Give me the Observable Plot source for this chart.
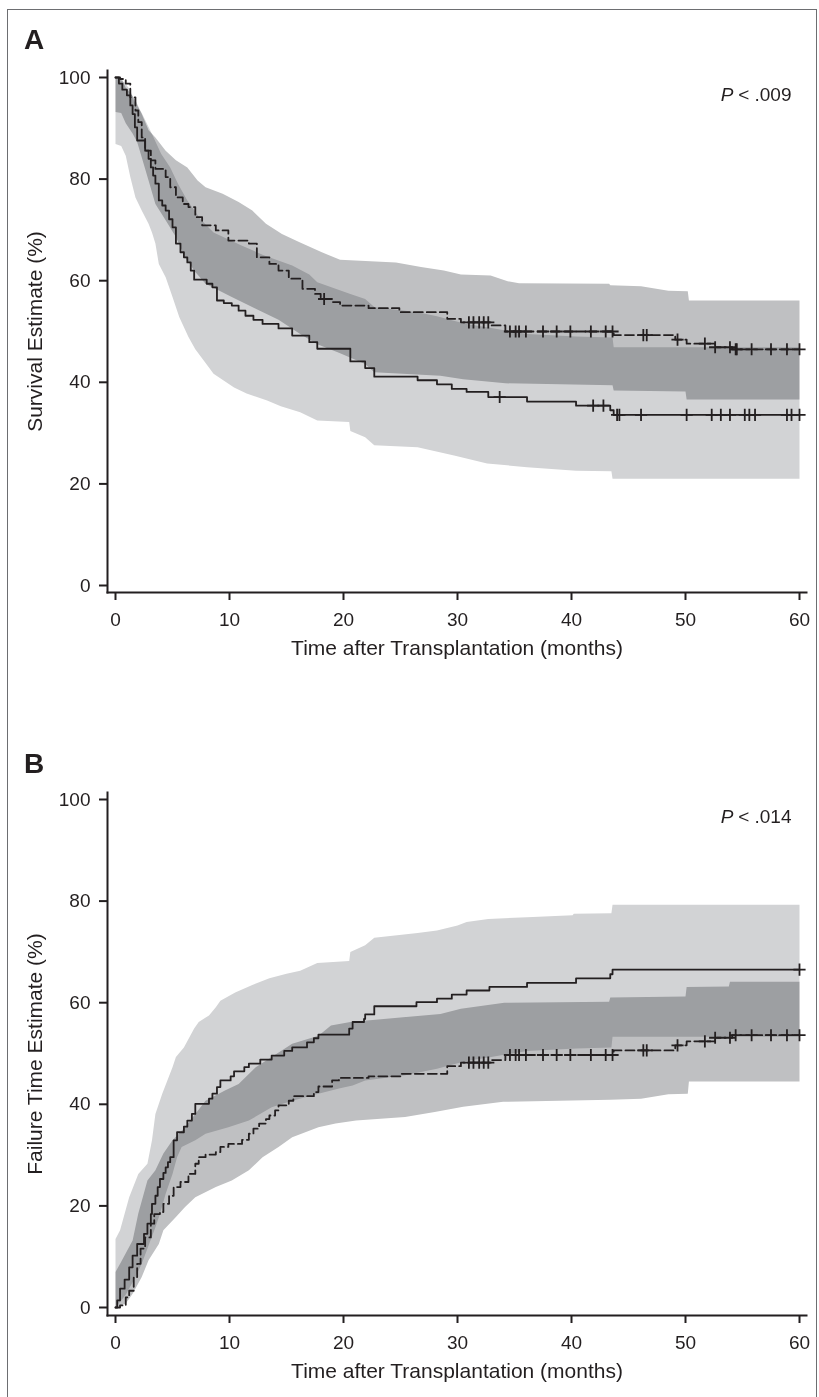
<!DOCTYPE html>
<html><head><meta charset="utf-8">
<script src="https://cdn.jsdelivr.net/npm/d3@7"></script>
<script src="https://cdn.jsdelivr.net/npm/@observablehq/plot@0.6"></script>
<style>
html,body{margin:0;padding:0;background:#fff;}
#page{position:relative;width:819px;height:1397px;overflow:hidden;font-family:"Liberation Sans",Arial,Helvetica,sans-serif;color:#231f20;}
.panel{position:absolute;left:0;}
.lab{position:absolute;left:24px;font-weight:bold;font-size:28px;line-height:28px;}
#border{position:absolute;left:7px;top:9px;width:810px;height:1420px;border:1px solid #6d6e71;box-sizing:border-box;}
</style></head><body>
<div id="page">
<div id="border"></div>
<div id="pA" class="panel" style="top:0px"></div>
<div id="pB" class="panel" style="top:720px"></div>
<div class="lab" style="top:26px">A</div>
<div class="lab" style="top:750px">B</div>
</div>
<script>
// ---------- tick labels / text ----------
const xTicks = [0, 10, 20, 30, 40, 50, 60];
const yTicks = [0, 20, 40, 60, 80, 100];
const xTitle = "Time after Transplantation (months)";
const yTitleA = "Survival Estimate (%)";
const yTitleB = "Failure Time Estimate (%)";
const pA = "< .009";
const pB = "< .014";

// ---------- Panel A: survival curves (step times / values) ----------
const A_solid_t = [0,0.3,0.6,1.0,1.3,1.5,1.7,1.9,2.6,2.9,3.1,3.3,3.5,3.8,4.1,4.4,4.7,5.0,5.3,5.7,6.0,6.3,6.6,6.9,8.0,8.5,8.9,9.5,10.2,10.8,11.4,12.1,12.9,14.3,15.5,17.0,17.7,20.6,21.9,22.7,26.5,28.2,29.5,30.8,32.7,36.1,40.4,43.4,43.7];
const A_solid_v = [100,98.8,97.6,96.5,94.5,92.8,90.2,87.6,85.6,84.0,82.3,80.7,79.1,75.8,74.8,73.8,72.1,70.5,67.3,65.6,64.6,63.6,62.0,60.2,59.4,58.7,56.1,55.6,55.1,54.1,53.1,52.3,51.5,50.6,49.2,47.9,46.6,44.1,42.8,41.1,40.4,39.6,38.7,38.1,37.1,36.2,35.4,34.5,33.6];
const A_solid_cens = [33.7,41.9,42.8,44.0,44.2,46.1,50.1,52.3,53.1,53.9,55.2,55.6,56.1,58.9,59.3,60];

const A_dash_t = [0,0.4,0.9,1.3,1.75,2.0,2.3,2.6,3.1,3.5,4.4,4.8,5.3,5.9,6.4,7.0,7.6,8.8,9.9,11.7,12.4,13.5,14.3,15.2,16.4,17.5,18.0,19.0,19.7,22.2,24.9,29.1,30.3,33.0,34.2,43.7,49.1,50.1,52.6,54.1];
const A_dash_v = [100,99.7,98.8,96.1,93.5,91.2,88.2,85.6,83.7,82.0,80.4,78.4,76.4,75.1,74.5,72.5,70.9,69.9,67.9,67.3,64.6,63.3,62.0,60.4,58.4,57.4,56.4,55.8,55.1,54.6,53.8,52.5,51.8,51.2,50.0,49.3,48.4,47.6,46.9,46.5];
const A_dash_cens = [18.3,31.0,31.4,31.9,32.3,32.7,34.6,35.1,35.4,36.0,37.5,38.7,39.9,41.7,43.0,43.6,46.3,46.6,49.3,51.7,52.6,53.9,54.4,54.5,55.8,57.5,58.9,60];

// Panel A confidence limits (boundary vertices)
const A_solidLo_t = [0,0.5,0.9,1.3,1.75,2.3,2.9,3.2,3.5,3.8,4.4,5.0,5.6,6.4,7.0,8.0,8.6,10.4,11.5,13.3,14.5,16.2,17.7,20.5,20.6,21.9,22.7,26.5,29.7,32.6,36.1,40.4,43.5,43.6,60];
const A_solidLo_v = [86.9,86.5,84.6,80.4,76.4,73.8,71.2,69.5,67.3,63.3,60.7,56.8,52.8,48.9,46.5,43.5,41.7,39.0,37.8,36.4,35.3,34.1,32.5,32.2,30.4,29.2,27.6,27.2,25.6,24.0,23.3,22.6,22.5,21.0,21.0];
const A_solidHi_t = [0,0.8,1.3,1.6,2.3,3.2,4.0,4.8,5.5,6.3,7.5,8.6,11,13,15.5,17.0,17.7,20.6,21.9,22.7,26.5,28.2,29.5,30.8,32.7,36.1,40.4,43.6,43.7,60];
const A_solidHi_v = [100,99,97.5,95.5,93,88.9,85,82.3,79,75.8,72,69.5,67,65,63,61.2,59.7,57.4,56.4,54.8,53.8,53,52.2,51.5,50.8,49.5,49,48.8,46.9,46.9];
const A_dashLo_t = [0,0.5,0.9,1.5,1.9,2.3,2.9,3.5,4.4,5.3,6.1,7.0,7.9,10.2,12.3,14.3,16.2,17.7,19.6,21.9,22.7,28.5,30.5,34.2,43.6,43.7,50.0,50.1,60];
const A_dashLo_v = [93.2,93,91,89,87.3,84.3,79.7,75.1,71.9,68.6,64.6,61.7,59.4,56.8,54.5,52.3,49.5,47.5,45.8,43.6,42.0,41.3,40.6,39.8,39.4,38.4,38.2,36.6,36.6];
const A_dashHi_t = [0,0.5,0.9,1.3,1.75,2.3,2.9,3.5,4.4,5.3,6.3,7.2,7.9,9.4,10.8,12.0,13.2,14.6,16.1,18.1,19.7,24.6,26.8,28.8,30.3,32.9,34.4,35.4,43.3,43.4,46.1,48.5,50.2,50.3,60];
const A_dashHi_v = [100,100,98,97,95.5,92.8,89.6,88.2,85.6,83.7,82.3,79.7,78.4,77.1,75.5,73.8,71.2,69.2,67.6,65.6,64.1,63.6,62.7,62.0,61.2,61.0,59.9,59.5,59.4,59.1,58.9,58.0,57.9,56.1,56.1];

// ---------- Panel B: failure curves ----------
const B_solid_t = [0,0.15,0.4,0.8,1.2,1.5,1.9,2.5,2.8,3.1,3.2,3.5,3.7,3.9,4.2,4.4,4.6,4.8,5.1,5.4,6.0,6.3,6.7,7.0,8.2,8.5,8.9,9.2,10.1,10.4,11.3,11.7,12.7,13.7,14.8,15.5,16.8,17.4,17.8,20.5,20.8,21.8,21.9,22.7,26.4,28.2,29.5,30.8,32.8,36.1,40.4,43.4,43.6];
const B_solid_v = [0,1.4,3.7,5.5,7.9,10.2,12.5,14.5,16.5,18.4,20.4,22.0,23.7,25.3,26.5,27.6,28.6,29.6,32.9,34.5,35.6,36.8,38.1,40.1,41.1,42.1,43.4,44.7,45.5,46.5,47.3,48.0,48.8,49.6,50.5,51.2,52.2,53.0,53.7,54.9,56.2,56.8,57.7,59.3,60.1,60.8,61.6,62.4,63.1,63.9,64.8,65.6,66.5];
const B_solid_cens = [60];

const B_dash_t = [0,0.4,0.9,1.2,1.6,1.9,2.2,2.6,3.1,3.4,3.9,4.2,4.7,5.1,5.7,6.4,7.0,7.3,7.9,8.8,9.2,9.9,11.1,11.7,12.1,12.6,13.2,13.5,14.0,14.3,15.2,15.6,17.4,17.8,19.0,19.6,22.2,25.0,29.1,30.3,33.0,34.2,43.7,49.1,50.1,52.6,54.1];
const B_dash_v = [0,0.4,2.0,3.3,6.0,8.6,11.6,13.8,16.5,18.4,18.8,20.4,22.0,23.7,24.7,26.3,28.3,29.6,30.1,30.6,31.6,32.2,33.0,34.2,35.2,36.2,37.1,37.8,38.8,39.8,40.7,41.6,42.4,43.5,44.7,45.2,45.5,46.0,47.5,48.2,48.7,49.7,50.6,51.6,52.4,53.1,53.6];
const B_dash_cens = [31.0,31.4,31.9,32.3,32.7,34.6,35.1,35.4,36.0,37.5,38.7,39.9,41.7,43.0,43.6,46.3,46.6,49.3,51.7,52.6,53.9,54.4,55.8,57.5,58.9,60];

// Panel B confidence limits
const B_solidLo_t = [0,0.9,1.75,2.3,2.9,3.5,3.9,4.4,5.0,5.4,5.8,7.0,7.9,9.9,11.7,13.7,15.5,17.8,19.6,20.8,21.9,25.4,28.2,29.5,30.8,32.7,36.1,40.4,43.5,43.6,60];
const B_solidLo_v = [0,2.5,6.0,8.6,12.2,15.8,18.4,22.4,26.3,29.6,31.6,32.9,34.2,35.5,36.8,39.4,40.7,42.1,43.1,43.7,44.7,45.7,47,47.8,48.5,49.2,50.5,51,51.2,53.3,53.3];
const B_solidHi_t = [0,0.4,1.2,2.0,2.8,3.2,3.5,4.1,5.0,5.3,6.0,6.9,7.3,8.2,8.8,9.2,10.5,12,13.5,15,16.2,17.7,20.5,20.6,21.9,22.7,26.5,28.2,30.0,30.8,32.7,36.1,40.1,40.2,43.5,43.6,60];
const B_solidHi_v = [13.5,15.2,21.7,26.3,28.3,32.9,38.1,42.1,47.3,49.3,51.2,54.9,56.2,57.5,59.1,60.4,62,63.5,64.8,65.7,66.3,67.8,68.2,70.0,71.3,72.8,73.7,74.2,75.2,75.9,76.5,76.8,77.2,77.5,77.6,79.3,79.3];
const B_dashLo_t = [0,0.9,1.5,2.3,2.9,3.8,4.2,5.3,6.1,7.0,8.8,10.2,11.7,12.9,14.3,15.5,17.8,19.3,21.1,25.4,28,30.5,34,43.4,46.1,48.5,50.2,50.3,60];
const B_dashLo_v = [0,0.8,2.7,6.0,9.3,12.5,15.2,17.8,19.8,21.7,23.7,25.0,27.0,29.6,31.6,33.5,35.5,36.2,36.8,37.5,38.5,39.5,40.5,40.9,41.1,42,42.1,44.5,44.5];
const B_dashHi_t = [0,0.5,1.5,2.0,2.8,3.5,4.2,5.0,6.1,7.0,7.9,9.6,10.8,12.3,13.7,15.5,17.8,18.9,20.6,25.0,28.5,30.3,34.1,43.3,43.4,50.0,50.1,53.8,53.9,60];
const B_dashHi_v = [7.0,9,13.2,18.5,25,27.0,30.3,32.9,35.5,38.1,40.7,42.7,44.0,47.3,49.3,51.9,53.5,55.5,56.2,57.1,57.8,58.8,60.0,60.2,61.0,61.2,63.1,63.2,64.1,64.1];

// ---------- helpers (table building only) ----------
const END = 60;
const INK = "#231f20";
const LIGHT = "#d2d3d5";
const MED = "#bfc0c2";
const FONT = '"Liberation Sans", Arial, Helvetica, sans-serif';

function stepAt(ts, vs, t) { let v = vs[0]; for (let i = 0; i < ts.length; i++) { if (ts[i] <= t) v = vs[i]; else break; } return v; }
function curveRows(ts, vs) { const r = ts.map((t, i) => ({t, v: vs[i]})); r.push({t: END, v: vs[vs.length - 1]}); return r; }
// closed outline of a band: upper limit left-to-right, then lower limit right-to-left
function bandPoly(lt, lv, ut, uv) {
  const up = ut.map((t, i) => ({t, v: uv[i]}));
  const lo = lt.map((t, i) => ({t, v: lv[i]})).reverse();
  return up.concat(lo);
}
function censRows(cs, ts, vs) { return cs.map(t => ({t, v: stepAt(ts, vs, t)})); }

function panel(cfg) {
  return Plot.plot({
    width: 819, height: cfg.H,
    marginTop: cfg.mt, insetTop: 7, marginBottom: cfg.mb, insetBottom: cfg.ib,
    marginLeft: 107, insetLeft: 8, marginRight: 13, insetRight: 7,
    style: {fontFamily: FONT, fontSize: "19px", color: INK, background: "transparent", overflow: "visible"},
    x: {domain: [0, 60]},
    y: {domain: [0, 100]},
    marks: [
      Plot.line(cfg.bandS, {x: "t", y: "v", curve: "linear", fill: LIGHT, stroke: "none", mixBlendMode: "multiply"}),
      Plot.line(cfg.bandD, {x: "t", y: "v", curve: "linear", fill: MED, stroke: "none", mixBlendMode: "multiply"}),
      Plot.line(cfg.solid, {x: "t", y: "v", curve: "step-after", stroke: INK, strokeWidth: 1.8}),
      Plot.line(cfg.dashed, {x: "t", y: "v", curve: "step-after", stroke: INK, strokeWidth: 1.8, strokeDasharray: "9,4"}),
      Plot.dot(cfg.solidC, {x: "t", y: "v", symbol: "plus", r: 4, stroke: INK, strokeWidth: 1.8}),
      Plot.dot(cfg.dashedC, {x: "t", y: "v", symbol: "plus", r: 4, stroke: INK, strokeWidth: 1.8}),
      Plot.frame({anchor: "left", stroke: INK, strokeWidth: 2}),
      Plot.frame({anchor: "bottom", stroke: INK, strokeWidth: 2}),
      Plot.axisX(xTicks, {tickSize: 8, tickPadding: 12, strokeWidth: 2, label: null, tickFormat: d => String(d)}),
      Plot.axisY(yTicks, {tickSize: 8, tickPadding: 9, strokeWidth: 2, label: null, tickFormat: d => String(d)}),
      Plot.text([cfg.yTitle], {frameAnchor: "left", dx: -72, rotate: -90, textAnchor: "middle", lineAnchor: "middle", fontSize: 21, fill: INK}),
      Plot.text([xTitle], {frameAnchor: "bottom", dy: 48, lineAnchor: "top", textAnchor: "middle", fontSize: 21, fill: INK}),
      Plot.text([cfg.p], {frameAnchor: "top-right", dx: -15, dy: 17, lineAnchor: "top", textAnchor: "end", fontSize: 19, fill: INK}),
      Plot.text(["P"], {frameAnchor: "top-right", dx: -73, dy: 17, lineAnchor: "top", textAnchor: "end", fontSize: 19, fontStyle: "italic", fill: INK})
    ]
  });
}

document.getElementById("pA").appendChild(panel({
  H: 650, mt: 70, mb: 58, ib: 7, yTitle: yTitleA, p: pA,
  bandS: bandPoly(A_solidLo_t, A_solidLo_v, A_solidHi_t, A_solidHi_v),
  bandD: bandPoly(A_dashLo_t, A_dashLo_v, A_dashHi_t, A_dashHi_v),
  solid: curveRows(A_solid_t, A_solid_v), dashed: curveRows(A_dash_t, A_dash_v),
  solidC: censRows(A_solid_cens, A_solid_t, A_solid_v), dashedC: censRows(A_dash_cens, A_dash_t, A_dash_v)
}));
document.getElementById("pB").appendChild(panel({
  H: 677, mt: 72, mb: 82, ib: 8, yTitle: yTitleB, p: pB,
  bandS: bandPoly(B_solidLo_t, B_solidLo_v, B_solidHi_t, B_solidHi_v),
  bandD: bandPoly(B_dashLo_t, B_dashLo_v, B_dashHi_t, B_dashHi_v),
  solid: curveRows(B_solid_t, B_solid_v), dashed: curveRows(B_dash_t, B_dash_v),
  solidC: censRows(B_solid_cens, B_solid_t, B_solid_v), dashedC: censRows(B_dash_cens, B_dash_t, B_dash_v)
}));
</script>
</body></html>
